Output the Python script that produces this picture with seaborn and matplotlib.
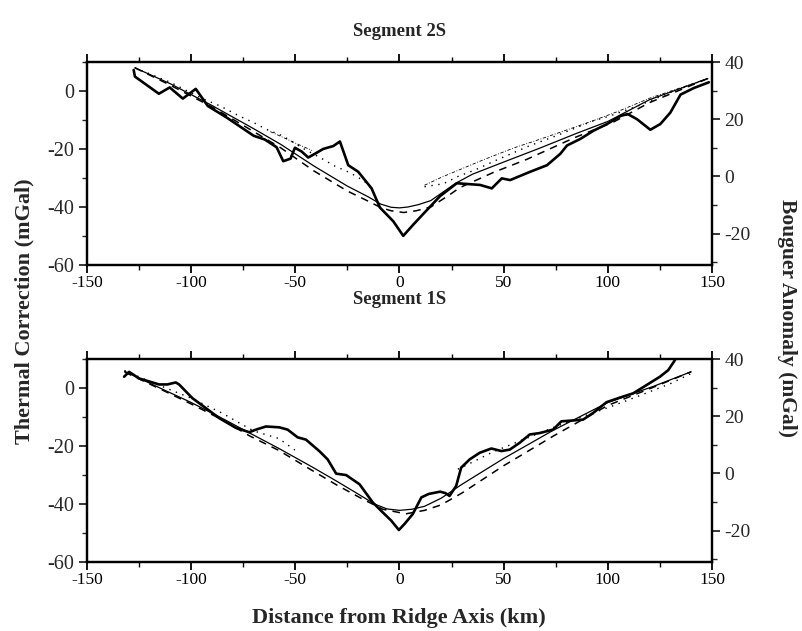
import numpy as np
import pandas as pd
import matplotlib
matplotlib.use("Agg")
import matplotlib.pyplot as plt
from matplotlib.ticker import MultipleLocator
import seaborn as sns

# ---------------- data ----------------
# Segment 2S -- observed Bouguer anomaly (right axis, mGal)
s2_obs_km = [-127.6, -127, -115.5, -110.3, -104, -97.8, -92, -83, -70, -64.7, -59, -55.8, -52.3,
             -50.2, -47, -43.8, -40.6, -36.6, -31.8, -28.6, -24.6, -19.8, -13.4, -9.4, -3, 1.8,
             6.7, 13, 19.5, 27.5, 38.7, 44.3, 49.1, 53.1, 62.7, 70.8, 77.2, 80.4, 86.8, 93.2,
             99.6, 106, 109.5, 114, 120.4, 125.2, 130, 134.9, 141.3, 148.5]
s2_obs_val = [37.2, 34.9, 28.9, 31.1, 27.2, 30.6, 24.6, 20.6, 14.2, 12.9, 10.2, 5.3, 6.2,
              10.0, 8.7, 6.6, 7.9, 9.6, 10.6, 12.2, 3.9, 1.6, -4.2, -10.9, -15.7, -20.8,
              -16.8, -11.9, -6.9, -2.4, -3.0, -4.2, -0.7, -1.3, 1.6, 3.9, 7.9, 10.8, 13.1, 16.0,
              18.3, 21.1, 21.8, 20.0, 16.3, 18.3, 22.3, 28.6, 30.9, 32.9]
# Segment 2S -- thermal correction models (left axis, mGal)
s2_solid_km = [-127, -110, -90, -70, -57, -41, -25, -15, -9, -4, 0, 4, 9, 15, 20, 27, 35, 50,
               67, 85, 100, 120, 148]
s2_solid_val = [8, 2.5, -5, -13, -18.4, -25.9, -32.8, -36.5, -39, -40.1, -40.3, -40, -39.2,
                -37.8, -35.3, -31.8, -28.7, -24.5, -19.8, -14.6, -10.5, -3, 4.3]
s2_dash_km = [-127, -110, -90, -70, -57, -41, -25, -15, -9, -4, 2, 8, 15, 24, 29, 45, 61, 84,
              103, 120, 148]
s2_dash_val = [8, 2, -5.5, -14, -19.6, -27.6, -34.5, -38, -40.2, -41.3, -41.9, -41.3, -40,
               -35.8, -33.3, -28.1, -23.6, -16.1, -10.6, -4, 4.3]
s2_dot_left_km = [-127, -110, -95, -86, -77, -70, -64, -56, -47, -38, -31, -24, -17, -13]
s2_dot_left_val = [8, 3, -2.5, -5.2, -8.6, -10.9, -13.2, -15.5, -19.5, -23, -25.9, -28.1, -31, -34]
s2_dot_right_km = [12, 21, 28, 36, 46, 55, 62, 75, 93, 101, 115, 130, 148]
s2_dot_right_val = [-33, -32, -29.5, -27.3, -24, -21.2, -19, -15.5, -10.3, -8.6, -5, -0.5, 4.3]
s2_dd_left_km = [-62, -55, -48, -42]
s2_dd_left_val = [-14, -16.3, -18.6, -20.5]
s2_dd_right_km = [12, 20, 28, 40, 55, 68, 80, 92, 105, 120, 148]
s2_dd_right_val = [-32.5, -29.8, -27.4, -23.8, -19.6, -16.5, -13.5, -10.5, -7, -2.5, 4.3]

# Segment 1S -- observed Bouguer anomaly (right axis, mGal)
s1_obs_km = [-132.2, -129.8, -125, -115.4, -111.4, -107.4, -105.8, -99.4, -92.9, -86.5, -78.5,
             -72.1, -68.9, -64.1, -57.7, -53.7, -48.9, -44.9, -38.5, -34.5, -30.4, -25.6, -19.2,
             -12.8, -8.8, -4, -0.3, 2.4, 6.4, 10.5, 14, 19.5, 22, 24, 27.2, 29.6, 33.7, 38.5,
             44.1, 48.9, 52.9, 57.7, 62.5, 67.3, 73.7, 77.7, 83.3, 88.1, 92.9, 99.4, 105.8,
             112.2, 118.6, 125, 129, 132.2, 134]
s1_obs_val = [33.8, 35.5, 33.2, 31.1, 31.1, 31.8, 31.1, 26.3, 22.8, 19.3, 15.9, 14.4, 15.3,
              16.4, 16.1, 15.3, 12.6, 11.8, 7.8, 4.9, -0.1, -0.6, -3.8, -10.2, -13.1, -16.5,
              -19.8, -17.7, -14.2, -8.4, -7.2, -6.4, -6.9, -7.9, -4.4, 2.0, 4.9, 7.2, 8.7, 7.8,
              8.3, 10.7, 13.6, 14.1, 15.3, 18.2, 18.5, 18.8, 21.1, 24.9, 26.5, 28.0, 30.9, 33.8,
              36.1, 39.6, 42.6]
# Segment 1S -- thermal correction models (left axis, mGal)
s1_solid_km = [-132, -115, -100, -85, -72, -58, -42, -30, -20, -12, -6, 0, 6, 12, 20, 30, 50,
               74, 100, 122, 140]
s1_solid_val = [5.8, 0, -5, -10.5, -15.5, -20.8, -27.2, -32.2, -36.5, -40, -41.7, -42.2, -41.8,
                -40.8, -38, -33.2, -24.3, -14.5, -5, 0.6, 5.6]
s1_dash_km = [-132, -115, -100, -85, -72, -58, -42, -30, -18, -8, 3, 12, 20, 30, 50, 74, 100,
              122, 140]
s1_dash_val = [5.5, -0.3, -5.5, -11, -16.5, -21.5, -28.4, -33.5, -38.2, -41.8, -43.4, -42.2,
               -40.3, -36.2, -26.8, -16.5, -6, 0.3, 5.6]
s1_dot_left_km = [-132, -118, -100, -85, -77, -70, -58, -50]
s1_dot_left_val = [6, 1.7, -3.5, -8.7, -12, -14.8, -17.4, -21.5]
s1_dot_right_km = [28, 31, 45, 59, 75, 90, 100, 114, 130, 140]
s1_dot_right_val = [-28, -27, -22, -17.9, -13.3, -9.3, -6.8, -3, 1.5, 5]

x_ticks = [-150, -100, -50, 0, 50, 100, 150]
left_ticks = [-60, -40, -20, 0]
right_ticks = [-20, 0, 20, 40]
titles = ["Segment 2S", "Segment 1S"]

# ---------------- style ----------------
sns.set_theme(style="ticks")
plt.rcParams['font.family'] = ['Liberation Serif', 'DejaVu Serif']
plt.rcParams['axes.linewidth'] = 1.6

W, H = 803, 631
fig = plt.figure(figsize=(W / 100, H / 100), dpi=100)
fig.patch.set_facecolor('white')


def seg(ax, km, val, **kw):
    df = pd.DataFrame({"km": km, "val": val})
    sns.lineplot(data=df, x="km", y="val", ax=ax, sort=False, estimator=None,
                 color="black", legend=False, **kw)


def make_panel(rect, obs, solid, dash, dots, dashdots):
    ax = fig.add_axes(rect)
    ax.set_facecolor('white')
    ax2 = ax.twinx()
    seg(ax, *solid, lw=0.9)
    seg(ax, *dash, lw=1.1, linestyle=(0, (5, 4)))
    for d in dots:
        seg(ax, *d, lw=1.0, linestyle=(0, (1, 4)))
    for d in dashdots:
        seg(ax, *d, lw=0.6, linestyle=(0, (4, 2, 1, 2)))
    seg(ax2, *obs, lw=1.9)

    ax.set_xlim(-150, 150)
    ax.set_ylim(-60, 10)
    ax2.set_ylim(-31, 40)
    ax.set_xticks(x_ticks)
    ax.set_xticklabels([str(t) for t in x_ticks])
    ax.xaxis.set_minor_locator(MultipleLocator(25))
    ax.set_yticks(left_ticks)
    ax.set_yticklabels([str(t) for t in left_ticks])
    ax.yaxis.set_minor_locator(MultipleLocator(10))
    ax2.set_yticks(right_ticks)
    ax2.set_yticklabels([str(t) for t in right_ticks])
    ax2.yaxis.set_minor_locator(MultipleLocator(10))
    ax.tick_params(axis='x', which='both', top=True, bottom=True, direction='out',
                   labelsize=12.5, colors='black', pad=1)
    ax.tick_params(axis='both', which='major', length=6, width=1.3)
    ax.tick_params(axis='both', which='minor', length=3.5, width=1.0)
    ax.tick_params(axis='y', which='both', direction='out', labelsize=14.5, pad=3)
    ax2.tick_params(axis='y', which='major', length=6, width=1.3, direction='out',
                    labelsize=14, pad=3)
    ax2.tick_params(axis='y', which='minor', length=3.5, width=1.0, direction='out')
    for a in (ax, ax2):
        a.set_xlabel("")
        a.set_ylabel("")
        for s in a.spines.values():
            s.set_visible(True)
            s.set_color('black')
            s.set_linewidth(1.6)
        a.grid(False)
    return ax, ax2


x0 = 87 / W
wid = (712 - 87) / W
top_rect = [x0, 1 - 265 / H, wid, (265 - 62) / H]
bot_rect = [x0, 1 - 562 / H, wid, (562 - 359) / H]

make_panel(top_rect, (s2_obs_km, s2_obs_val), (s2_solid_km, s2_solid_val),
           (s2_dash_km, s2_dash_val),
           [(s2_dot_left_km, s2_dot_left_val), (s2_dot_right_km, s2_dot_right_val)],
           [(s2_dd_left_km, s2_dd_left_val), (s2_dd_right_km, s2_dd_right_val)])
make_panel(bot_rect, (s1_obs_km, s1_obs_val), (s1_solid_km, s1_solid_val),
           (s1_dash_km, s1_dash_val),
           [(s1_dot_left_km, s1_dot_left_val), (s1_dot_right_km, s1_dot_right_val)],
           [])

fig.text(400 / W, 1 - 32 / H, titles[0], ha='center', va='center',
         fontsize=13.5, fontweight='bold')
fig.text(400 / W, 1 - 300 / H, titles[1], ha='center', va='center',
         fontsize=13.5, fontweight='bold')
fig.text(24 / W, 1 - 311 / H, "Thermal Correction (mGal)", rotation=90, ha='center',
         va='center', fontsize=16, fontweight='bold')
fig.text(787 / W, 1 - 318 / H, "Bouguer Anomaly (mGal)", rotation=270, ha='center',
         va='center', fontsize=15.5, fontweight='bold')
fig.text(399 / W, 1 - 618 / H, "Distance from Ridge Axis (km)", ha='center', va='center',
         fontsize=16, fontweight='bold')

fig.savefig("out.png", dpi=100, facecolor='white')
